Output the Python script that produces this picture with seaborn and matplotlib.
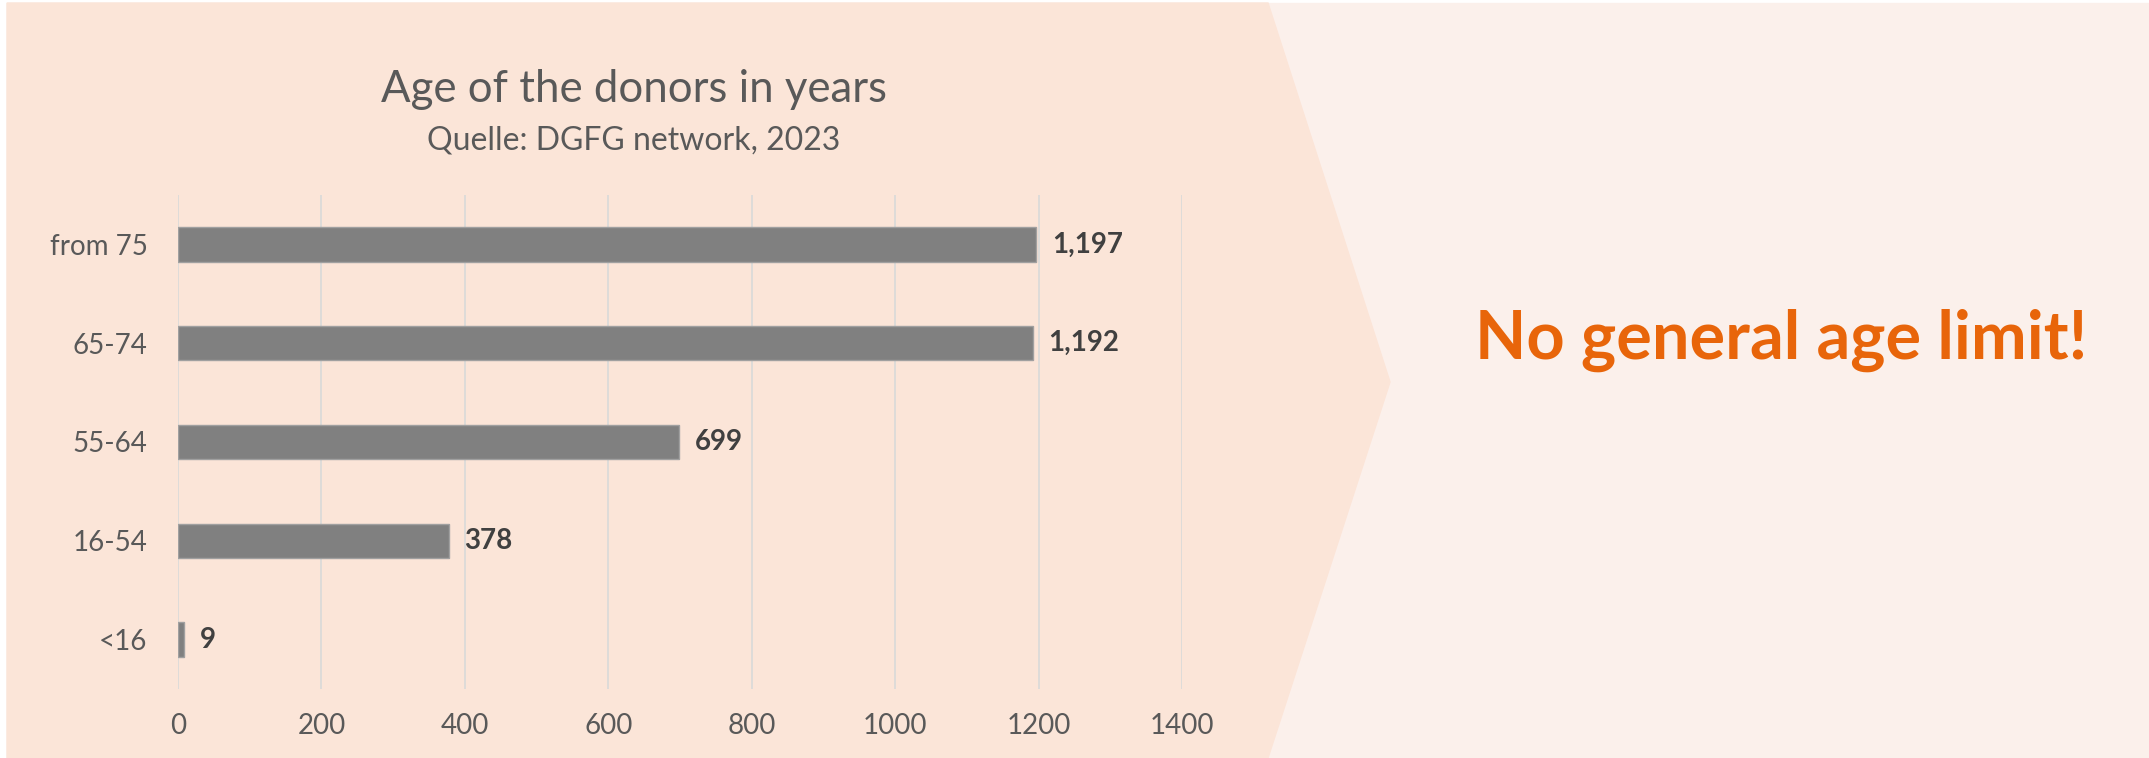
import matplotlib.pyplot as plt
import seaborn as sns
import pandas as pd
from matplotlib.patches import Polygon, Rectangle

age_groups = ["from 75", "65-74", "55-64", "16-54", "<16"]
donors = [1197, 1192, 699, 378, 9]
x_ticks = [0, 200, 400, 600, 800, 1000, 1200, 1400]

df = pd.DataFrame({"age": age_groups, "donors": donors})

sns.set_theme(style="white")
plt.rcParams["font.family"] = ["Lato", "DejaVu Sans"]

W, H = 2149, 758
fig = plt.figure(figsize=(W / 100, H / 100), dpi=100, facecolor="white")

# background panels (pixel coords converted to figure fraction)
def px(x, y):
    return (x / W, 1 - y / H)

fig.patches.append(Rectangle(px(7, 758), (W - 7) / W, (758 - 3) / H,
                             transform=fig.transFigure, color="#FBF0EB", zorder=-2))
chevron = [px(7, 3), px(1268, 3), px(1390, 382), px(1268, 758), px(7, 758)]
fig.patches.append(Polygon(chevron, closed=True, transform=fig.transFigure,
                           color="#FBE5D8", zorder=-1))

ax = fig.add_axes([178 / W, 69 / H, (1182 - 178) / W, (689 - 195) / H])
ax.set_facecolor("none")

sns.barplot(data=df, x="donors", y="age", ax=ax, color="#808080",
            width=0.35, edgecolor="#A0A0A0", linewidth=1, saturation=1)

ax.set_xlim(0, 1400)
ax.set_xticks(x_ticks)
ax.set_xticklabels([str(t) for t in x_ticks])
ax.xaxis.grid(True, color="#D9D9D9", linewidth=1.2)
ax.set_axisbelow(True)
for s in ax.spines.values():
    s.set_visible(False)
ax.set_xlabel("")
ax.set_ylabel("")
ax.tick_params(axis="both", length=0, labelsize=20, labelcolor="#595959")
ax.tick_params(axis="x", pad=17)
ax.tick_params(axis="y", pad=22)

for c in ax.containers:
    ax.bar_label(c, labels=[f"{v:,}" for v in donors], padding=11,
                 fontsize=20, fontweight="bold", color="#404040")

fig.text(634 / W, 1 - 89 / H, "Age of the donors in years", ha="center", va="center",
         fontsize=31.5, color="#595959")
fig.text(634 / W, 1 - 141 / H, "Quelle: DGFG network, 2023", ha="center", va="center",
         fontsize=23, color="#595959")

fig.text(1781 / W, 1 - 340 / H, "No general age limit!", ha="center", va="center",
         fontsize=48, fontweight="bold", color="#E8650A")

fig.savefig("out.png", dpi=100, facecolor=fig.get_facecolor())
